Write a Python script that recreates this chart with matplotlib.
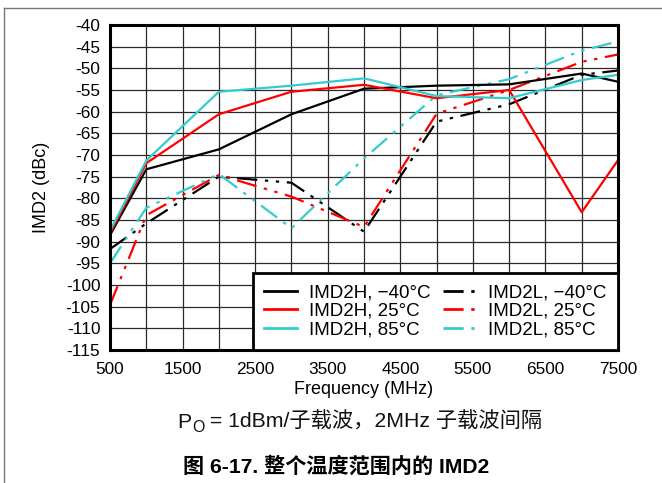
import matplotlib
matplotlib.use("Agg")
import matplotlib.pyplot as plt
from matplotlib.lines import Line2D
from matplotlib.text import Annotation

plt.rcParams["font.family"] = ["Liberation Sans", "Noto Sans CJK SC", "DejaVu Sans"]
plt.rcParams["lines.scale_dashes"] = False

# Frequency points (MHz)
freq = [500, 1000, 2000, 3000, 4000, 5000, 6000, 7000, 7500]

# IMD2 (dBc) per tone position and temperature
imd2h_m40 = [-88.5, -73.3, -68.7, -60.6, -54.7, -54.0, -53.7, -51.2, -53.1]
imd2h_25 = [-88.1, -71.9, -60.6, -55.4, -53.8, -56.9, -55.0, -83.2, -71.2]
imd2h_85 = [-87.5, -71.3, -55.4, -54.0, -52.3, -56.4, -56.9, -52.7, -51.5]
imd2l_m40 = [-91.7, -85.8, -75.0, -76.4, -87.7, -62.3, -58.3, -51.5, -50.5]
imd2l_25 = [-104.6, -83.9, -74.6, -79.6, -86.6, -60.5, -55.0, -48.5, -46.8]
imd2l_85 = [-95.0, -82.2, -74.4, -86.9, -70.8, -56.2, -52.5, -45.9, -43.8]

labels = ["IMD2H, \u221240\u00b0C", "IMD2H, 25\u00b0C", "IMD2H, 85\u00b0C",
          "IMD2L, \u221240\u00b0C", "IMD2L, 25\u00b0C", "IMD2L, 85\u00b0C"]

x_ticks = [500, 1500, 2500, 3500, 4500, 5500, 6500, 7500]
y_ticks = list(range(-40, -116, -5))

BLACK = "#000000"
RED = "#ff0000"
CYAN = "#33cccc"
DASHDOT = (0, (14.5, 5.5, 2.4, 5.5, 2.4, 5.5))

series = [
    (imd2l_m40, BLACK, DASHDOT),
    (imd2l_25, RED, DASHDOT),
    (imd2l_85, CYAN, DASHDOT),
    (imd2h_m40, BLACK, "-"),
    (imd2h_25, RED, "-"),
    (imd2h_85, CYAN, "-"),
]

fig = plt.figure(figsize=(6.62, 4.83), dpi=100)
ax = fig.add_axes([110 / 662, 1 - 350 / 483, 508 / 662, 325 / 483])

for vals, col, ls in series:
    ax.plot(freq, vals, color=col, linestyle=ls, linewidth=1.6)

ax.set_xlim(500, 7500)
ax.set_ylim(-115, -40)
ax.set_xticks(x_ticks)
ax.set_xticklabels([str(v) for v in x_ticks])
ax.set_xticks(range(1000, 7001, 1000), minor=True)
ax.set_yticks(y_ticks)
ax.set_yticklabels([str(v) for v in y_ticks])
ax.grid(which="both", color="#2a2a2a", linewidth=0.9)
ax.set_axisbelow(True)
ax.tick_params(which="both", length=0, labelsize=12.4)
ax.tick_params(axis="x", pad=9)
ax.tick_params(axis="y", pad=7)
for sp in ax.spines.values():
    sp.set_linewidth(2.2)
    sp.set_color("black")

ax.set_xlabel("Frequency (MHz)", fontsize=13)
ax.xaxis.set_label_coords(0.5, (350 - 389) / 325)
ax.xaxis.label.set_verticalalignment("center")
ax.set_ylabel("IMD2 (dBc)", fontsize=13)
ax.yaxis.set_label_coords((42 - 110) / 508, 0.5)
ax.yaxis.label.set_verticalalignment("center")

handles = [
    Line2D([], [], color=BLACK, linestyle="-", linewidth=2),
    Line2D([], [], color=RED, linestyle="-", linewidth=2),
    Line2D([], [], color=CYAN, linestyle="-", linewidth=2),
    Line2D([], [], color=BLACK, linestyle=DASHDOT, linewidth=2),
    Line2D([], [], color=RED, linestyle=DASHDOT, linewidth=2),
    Line2D([], [], color=CYAN, linestyle=DASHDOT, linewidth=2),
]
leg = ax.legend(handles, labels, ncol=2, loc="lower right", bbox_to_anchor=(1, 0),
                borderaxespad=0, fontsize=13.5, frameon=True, fancybox=False,
                framealpha=1, edgecolor="black", handlelength=1.75,
                handletextpad=0.65, columnspacing=0.7, labelspacing=0.09,
                borderpad=0.6)
leg.get_frame().set_linewidth(2)

# Page frame lines
fig.add_artist(Line2D([3.5 / 662, 3.5 / 662], [0, 1 - 8 / 483], transform=fig.transFigure,
                      color="#777777", linewidth=1))
fig.add_artist(Line2D([3.5 / 662, 1], [1 - 8 / 483, 1 - 8 / 483], transform=fig.transFigure,
                      color="#777777", linewidth=1))

# Test condition line with subscript
cap_y = 1 - 432 / 483
t1 = fig.text(177 / 662, cap_y, "P", fontsize=15.3, va="bottom", color="#111111")
sub = Annotation("O", xy=(1, 0), xycoords=t1, xytext=(0.5, -2),
                 textcoords="offset points", fontsize=11.5,
                 va="bottom", ha="left", color="#111111")
fig.add_artist(sub)
rest = Annotation(" = 1dBm/\u5b50\u8f7d\u6ce2\uff0c2MHz \u5b50\u8f7d\u6ce2\u95f4\u9694",
                  xy=(1, 0), xycoords=sub, xytext=(0, 2),
                  textcoords="offset points", fontsize=15.3,
                  va="bottom", ha="left", color="#111111")
fig.add_artist(rest)

fig.text(183 / 662, 1 - 466 / 483, "\u56fe 6-17. \u6574\u4e2a\u6e29\u5ea6\u8303\u56f4\u5185\u7684 IMD2",
         fontsize=15.2, fontweight="bold", va="center", ha="left", color="#000000")

fig.savefig("out.png", dpi=100)
